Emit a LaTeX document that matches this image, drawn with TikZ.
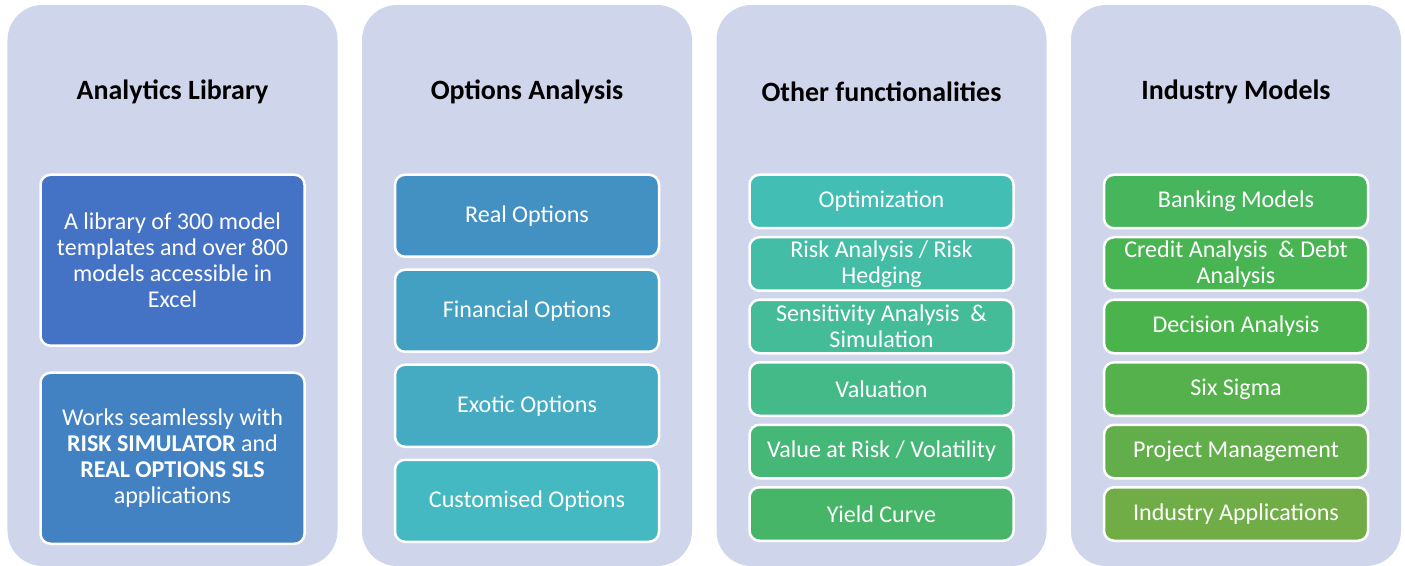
\documentclass[tikz,border=0pt]{standalone}
\usepackage{fontspec}
\setmainfont{Carlito}
\usepackage{tikz}
\usetikzlibrary{positioning}
\definecolor{panelgray}{HTML}{CFD5EA}
\definecolor{libA}{HTML}{4472C4}
\definecolor{libB}{HTML}{4382C2}
\definecolor{optA}{HTML}{4390C3}
\definecolor{optB}{HTML}{44A0C2}
\definecolor{optC}{HTML}{44ABC2}
\definecolor{optD}{HTML}{44B9C2}
\definecolor{funA}{HTML}{42BEB5}
\definecolor{funB}{HTML}{43BDA6}
\definecolor{funC}{HTML}{44BC98}
\definecolor{funD}{HTML}{44BA88}
\definecolor{funE}{HTML}{45B877}
\definecolor{funF}{HTML}{46B567}
\definecolor{indA}{HTML}{47B55B}
\definecolor{indB}{HTML}{48B452}
\definecolor{indC}{HTML}{4BB34C}
\definecolor{indD}{HTML}{55B14B}
\definecolor{indE}{HTML}{62AE4A}
\definecolor{indF}{HTML}{70AD47}
\tikzset{panel node/.style={rounded corners=0.7cm,fill=panelgray,minimum width=6.6cm,minimum height=11.22cm,inner sep=0pt},
	title node/.style={font=\fontsize{15.9}{18}\selectfont\bfseries},
	box node/.style={rounded corners=0.2cm,draw=white,line width=0.05cm,minimum width=5.28cm,align=center,text=white,font=\fontsize{13.7}{14.8}\selectfont,inner sep=0pt},
	big box/.style={box node,minimum height=3.42cm},
	mid box/.style={box node,minimum height=1.64cm},
	small box/.style={box node,minimum height=1.07cm},}

\begin{document}
\begin{tikzpicture}[node distance=0.13cm]
		\useasboundingbox (0,0) rectangle (28.1,-11.32);
		% panels
		\node[panel node] (p1) at (3.45,-5.71) {};
		\node[panel node] (p2) at (10.54,-5.71) {};
		\node[panel node] (p3) at (17.63,-5.71) {};
		\node[panel node] (p4) at (24.72,-5.71) {};
		\node[title node] (t1) at (3.45,-1.84) {Analytics Library};
		\node[title node] (t2) at (10.54,-1.84) {Options Analysis};
		\node[title node] (t3) at (17.63,-1.84) {Other functionalities};
		\node[title node] (t4) at (24.72,-1.84) {Industry Models};
	
		% analytics library
		\node[big box, fill=libA, anchor=north] (lib) at (3.45,-3.47) {A library of 300 model\\templates and over 800\\models accessible in\\Excel};
		\node[big box, fill=libB] (works) [below = 0.49cm of lib] {Works seamlessly with\\\textbf{RISK SIMULATOR} and\\\textbf{REAL OPTIONS SLS}\\applications};
	
		% options analysis
		\node[mid box, fill=optA, anchor=north] (real) at (10.54,-3.47) {Real Options};
		\node[mid box, fill=optB] (fin) [below = 0.21cm of real] {Financial Options};
		\node[mid box, fill=optC] (exo) [below = 0.21cm of fin] {Exotic Options};
		\node[mid box, fill=optD] (cus) [below = 0.21cm of exo] {Customised Options};
	
		% other functionalities
		\node[small box, fill=funA, anchor=north] (opt) at (17.63,-3.47) {Optimization};
		\node[small box, fill=funB] (risk) [below = of opt] {Risk Analysis / Risk\\Hedging};
		\node[small box, fill=funC] (sens) [below = of risk] {Sensitivity Analysis~~\&\\Simulation};
		\node[small box, fill=funD] (val) [below = of sens] {Valuation};
		\node[small box, fill=funE] (var) [below = of val] {Value at Risk / Volatility};
		\node[small box, fill=funF] (yield) [below = of var] {Yield Curve};
	
		% industry models
		\node[small box, fill=indA, anchor=north] (bank) at (24.72,-3.47) {Banking Models};
		\node[small box, fill=indB] (credit) [below = of bank] {Credit Analysis~~\& Debt\\Analysis};
		\node[small box, fill=indC] (dec) [below = of credit] {Decision Analysis};
		\node[small box, fill=indD] (six) [below = of dec] {Six Sigma};
		\node[small box, fill=indE] (proj) [below = of six] {Project Management};
		\node[small box, fill=indF] (ind) [below = of proj] {Industry Applications};
	\end{tikzpicture}
\end{document}
